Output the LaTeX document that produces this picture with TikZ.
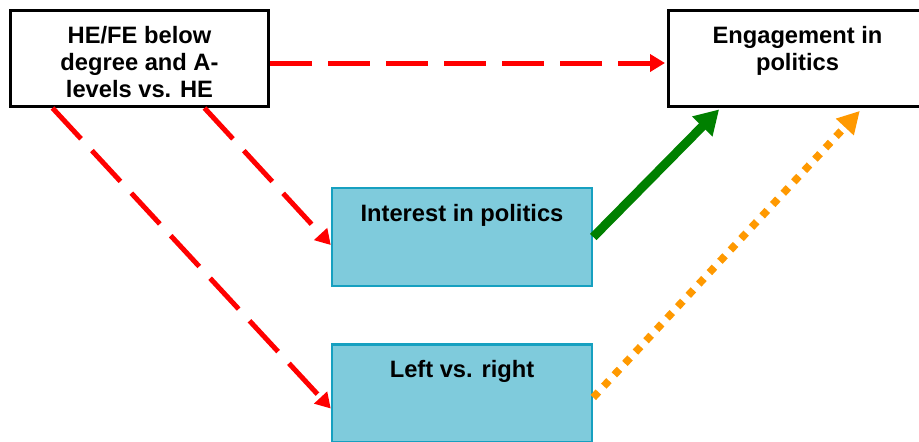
\documentclass[tikz,border=0pt]{standalone}
\usepackage{fontspec}
\setmainfont{Liberation Sans}
\usetikzlibrary{arrows.meta,positioning}

\definecolor{boxfill}{RGB}{127,203,220}
\definecolor{boxline}{RGB}{22,160,192}
\definecolor{dotorange}{RGB}{255,153,0}
\definecolor{pathgreen}{RGB}{0,128,0}

\begin{document}
\begin{tikzpicture}[
    x=1pt, y=-1pt,
    outcome/.style={rectangle, draw=black, line width=3pt, fill=white, minimum width=258pt, minimum height=96pt, inner sep=0pt},
    mediator/.style={rectangle, draw=boxline, line width=2.5pt, fill=boxfill, minimum width=260pt, minimum height=98pt, inner sep=0pt},
    boxlabel/.style={anchor=north, inner sep=0pt, yshift=-17pt, align=center, font=\fontsize{23.7}{27}\selectfont\bfseries},
    direct/.style={red, line width=5pt, dash pattern=on 42pt off 16pt, -{Triangle[length=15pt, width=17pt]}},
    viainterest/.style={pathgreen, line width=9pt, -{Triangle[length=24pt, width=27pt]}},
    viaside/.style={dotorange, line width=7.5pt, dash pattern=on 7.5pt off 8pt, -{Triangle[length=22pt, width=23pt]}}
]
    \useasboundingbox (0,0) rectangle (919,442);

    % Boxes
    \node[outcome, label={[boxlabel]north:HE/FE below\\degree and A-\\levels vs. HE}] (qual) at (139.5,58.5) {};
    \node[outcome, label={[boxlabel]north:Engagement in\\politics}] (engage) at (797.5,58.5) {};
    \node[mediator, label={[boxlabel]north:Interest in politics}] (interest) at (462,237) {};
    \node[mediator, below=56pt of interest, label={[boxlabel]north:Left vs. right}] (leftright) {};

    % Direct path
    \draw[direct, shorten >=2pt] ([yshift=-4.5pt]qual.east) -- ([yshift=-4.5pt]engage.west);

    % Paths through the mediators
    \draw[direct] ([xshift=65pt]qual.south) -- ([yshift=-8pt]interest.west);
    \draw[direct] ([xshift=-87pt]qual.south) -- ([yshift=-15pt]leftright.west);
    \draw[viainterest, shorten >=2pt] (interest.east) -- ([xshift=-77pt]engage.south);
    \draw[viaside, shorten >=4pt] ([yshift=-4pt]leftright.east) -- ([xshift=65pt]engage.south);
\end{tikzpicture}
\end{document}
